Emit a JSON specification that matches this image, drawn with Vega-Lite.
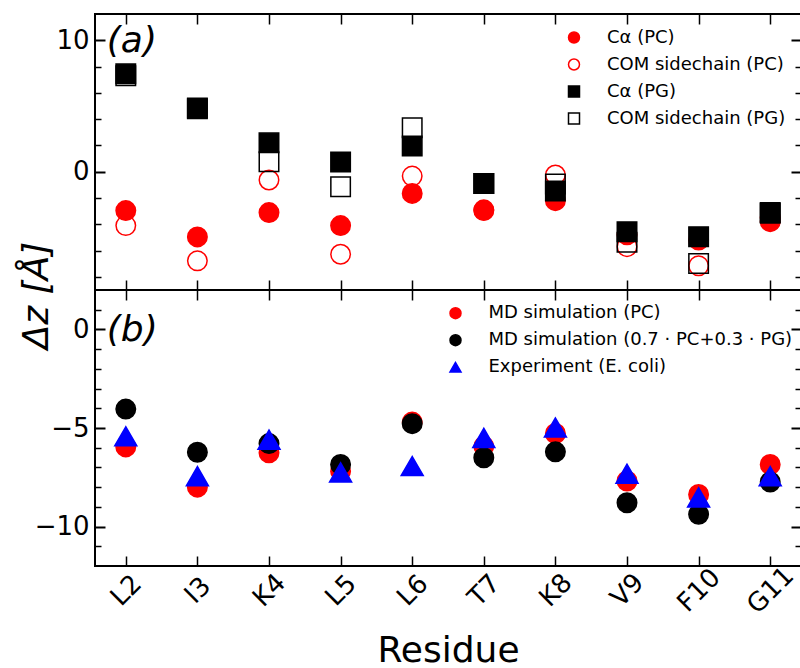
{
  "$schema": "https://vega.github.io/schema/vega-lite/v6.json",
  "padding": {"left": 17, "top": 12, "right": 0, "bottom": 0},
  "bounds": "flush",
  "spacing": 0,
  "resolve": {
    "scale": {"shape": "independent", "fill": "independent", "stroke": "independent", "x": "independent", "y": "independent"},
    "legend": {"shape": "independent", "fill": "independent", "stroke": "independent"}
  },
  "config": {
    "font": "DejaVu Sans",
    "view": {"stroke": "black", "strokeWidth": 2},
    "axis": {"grid": false, "domain": false, "labelFont": "DejaVu Sans", "labelFontSize": 26, "labelColor": "black", "tickColor": "black", "titleColor": "black", "titleFont": "DejaVu Sans", "titleFontWeight": "normal"},
    "legend": {"labelFont": "DejaVu Sans", "labelFontSize": 18, "labelColor": "black", "labelLimit": 0, "symbolSize": 121, "symbolStrokeWidth": 1.5, "rowPadding": 9, "padding": 0, "labelOffset": 24}
  },
  "datasets": {
    "a": [
      {"residue": "L2", "seriesA": "Cα (PC)", "dz": -2.96},
      {"residue": "I3", "seriesA": "Cα (PC)", "dz": -4.96},
      {"residue": "K4", "seriesA": "Cα (PC)", "dz": -3.11},
      {"residue": "L5", "seriesA": "Cα (PC)", "dz": -4.1},
      {"residue": "L6", "seriesA": "Cα (PC)", "dz": -1.65},
      {"residue": "T7", "seriesA": "Cα (PC)", "dz": -2.96},
      {"residue": "K8", "seriesA": "Cα (PC)", "dz": -2.2},
      {"residue": "V9", "seriesA": "Cα (PC)", "dz": -4.8},
      {"residue": "F10", "seriesA": "Cα (PC)", "dz": -5.2},
      {"residue": "G11", "seriesA": "Cα (PC)", "dz": -3.8},
      {"residue": "L2", "seriesA": "COM sidechain (PC)", "dz": -4.1},
      {"residue": "I3", "seriesA": "COM sidechain (PC)", "dz": -6.78},
      {"residue": "K4", "seriesA": "COM sidechain (PC)", "dz": -0.63},
      {"residue": "L5", "seriesA": "COM sidechain (PC)", "dz": -6.28},
      {"residue": "L6", "seriesA": "COM sidechain (PC)", "dz": -0.33},
      {"residue": "T7", "seriesA": "COM sidechain (PC)", "dz": -2.9},
      {"residue": "K8", "seriesA": "COM sidechain (PC)", "dz": -0.25},
      {"residue": "V9", "seriesA": "COM sidechain (PC)", "dz": -5.7},
      {"residue": "F10", "seriesA": "COM sidechain (PC)", "dz": -7.16},
      {"residue": "G11", "seriesA": "COM sidechain (PC)", "dz": -3.5},
      {"residue": "L2", "seriesA": "Cα (PG)", "dz": 7.45},
      {"residue": "I3", "seriesA": "Cα (PG)", "dz": 4.8},
      {"residue": "K4", "seriesA": "Cα (PG)", "dz": 2.2},
      {"residue": "L5", "seriesA": "Cα (PG)", "dz": 0.74},
      {"residue": "L6", "seriesA": "Cα (PG)", "dz": 1.95},
      {"residue": "T7", "seriesA": "Cα (PG)", "dz": -0.89},
      {"residue": "K8", "seriesA": "Cα (PG)", "dz": -1.47},
      {"residue": "V9", "seriesA": "Cα (PG)", "dz": -4.56},
      {"residue": "F10", "seriesA": "Cα (PG)", "dz": -4.94},
      {"residue": "G11", "seriesA": "Cα (PG)", "dz": -3.16},
      {"residue": "L2", "seriesA": "COM sidechain (PG)", "dz": 7.3},
      {"residue": "I3", "seriesA": "COM sidechain (PG)", "dz": 4.85},
      {"residue": "K4", "seriesA": "COM sidechain (PG)", "dz": 0.76},
      {"residue": "L5", "seriesA": "COM sidechain (PG)", "dz": -1.14},
      {"residue": "L6", "seriesA": "COM sidechain (PG)", "dz": 3.34},
      {"residue": "T7", "seriesA": "COM sidechain (PG)", "dz": -0.9},
      {"residue": "K8", "seriesA": "COM sidechain (PG)", "dz": -0.94},
      {"residue": "V9", "seriesA": "COM sidechain (PG)", "dz": -5.37},
      {"residue": "F10", "seriesA": "COM sidechain (PG)", "dz": -6.99},
      {"residue": "G11", "seriesA": "COM sidechain (PG)", "dz": -3.1}
    ],
    "b": [
      {"residue": "L2", "seriesB": "MD simulation (PC)", "dz": -5.96},
      {"residue": "I3", "seriesB": "MD simulation (PC)", "dz": -8.0},
      {"residue": "K4", "seriesB": "MD simulation (PC)", "dz": -6.26},
      {"residue": "L5", "seriesB": "MD simulation (PC)", "dz": -7.19},
      {"residue": "L6", "seriesB": "MD simulation (PC)", "dz": -4.7},
      {"residue": "T7", "seriesB": "MD simulation (PC)", "dz": -5.93},
      {"residue": "K8", "seriesB": "MD simulation (PC)", "dz": -5.28},
      {"residue": "V9", "seriesB": "MD simulation (PC)", "dz": -7.69},
      {"residue": "F10", "seriesB": "MD simulation (PC)", "dz": -8.37},
      {"residue": "G11", "seriesB": "MD simulation (PC)", "dz": -6.85},
      {"residue": "L2", "seriesB": "MD simulation (0.7 · PC+0.3 · PG)", "dz": -4.04},
      {"residue": "I3", "seriesB": "MD simulation (0.7 · PC+0.3 · PG)", "dz": -6.23},
      {"residue": "K4", "seriesB": "MD simulation (0.7 · PC+0.3 · PG)", "dz": -5.79},
      {"residue": "L5", "seriesB": "MD simulation (0.7 · PC+0.3 · PG)", "dz": -6.85},
      {"residue": "L6", "seriesB": "MD simulation (0.7 · PC+0.3 · PG)", "dz": -4.78},
      {"residue": "T7", "seriesB": "MD simulation (0.7 · PC+0.3 · PG)", "dz": -6.51},
      {"residue": "K8", "seriesB": "MD simulation (0.7 · PC+0.3 · PG)", "dz": -6.21},
      {"residue": "V9", "seriesB": "MD simulation (0.7 · PC+0.3 · PG)", "dz": -8.79},
      {"residue": "F10", "seriesB": "MD simulation (0.7 · PC+0.3 · PG)", "dz": -9.38},
      {"residue": "G11", "seriesB": "MD simulation (0.7 · PC+0.3 · PG)", "dz": -7.74},
      {"residue": "L2", "seriesB": "Experiment (E. coli)", "dz": -5.42},
      {"residue": "I3", "seriesB": "Experiment (E. coli)", "dz": -7.44},
      {"residue": "K4", "seriesB": "Experiment (E. coli)", "dz": -5.59},
      {"residue": "L5", "seriesB": "Experiment (E. coli)", "dz": -7.25},
      {"residue": "L6", "seriesB": "Experiment (E. coli)", "dz": -6.93},
      {"residue": "T7", "seriesB": "Experiment (E. coli)", "dz": -5.5},
      {"residue": "K8", "seriesB": "Experiment (E. coli)", "dz": -4.97},
      {"residue": "V9", "seriesB": "Experiment (E. coli)", "dz": -7.32},
      {"residue": "F10", "seriesB": "Experiment (E. coli)", "dz": -8.52},
      {"residue": "G11", "seriesB": "Experiment (E. coli)", "dz": -7.44}
    ]
  },
  "vconcat": [
    {
      "width": 706,
      "height": 276,
      "resolve": {"axis": {"x": "independent", "y": "independent"}},
      "layer": [
        {
          "data": {"name": "a"},
          "mark": {"type": "point", "filled": true, "size": 380, "strokeWidth": 1.5, "opacity": 1},
          "encoding": {
            "x": {"field": "residue", "type": "ordinal", "sort": null,
              "scale": {"type": "point", "domain": ["L2","I3","K4","L5","L6","T7","K8","V9","F10","G11"], "padding": 0.43},
              "axis": {"orient": "bottom", "labels": false, "title": null, "tickSize": -10, "tickWidth": 1.5}},
            "y": {"field": "dz", "type": "quantitative",
              "scale": {"domain": [-9, 12], "nice": false, "zero": false},
              "axis": {"orient": "left", "values": [-8,-6,-4,-2,0,2,4,6,8,10],
                "labelExpr": "datum.value % 10 === 0 ? datum.label : ''",
                "tickSize": {"condition": {"test": "datum.value % 10 === 0", "value": -10}, "value": -6},
                "tickWidth": {"condition": {"test": "datum.value % 10 === 0", "value": 2}, "value": 1.5},
                "labelPadding": 16, "labelBaseline": "middle",
                "title": "Δz [Å]", "titleFontSize": 36, "titleFontStyle": "italic", "titleAngle": -90,
                "titleX": -48, "titleY": 281, "titleAlign": "center", "titleBaseline": "alphabetic"}},
            "shape": {"field": "seriesA", "type": "nominal",
              "scale": {"domain": ["Cα (PC)", "COM sidechain (PC)", "Cα (PG)", "COM sidechain (PG)"], "range": ["circle", "circle", "square", "square"]},
              "legend": {"title": null, "orient": "none", "legendX": 470, "legendY": 14.5}},
            "fill": {"field": "seriesA", "type": "nominal",
              "scale": {"domain": ["Cα (PC)", "COM sidechain (PC)", "Cα (PG)", "COM sidechain (PG)"], "range": ["red", "transparent", "black", "transparent"]},
              "legend": {"title": null, "orient": "none", "legendX": 470, "legendY": 14.5}},
            "stroke": {"field": "seriesA", "type": "nominal",
              "scale": {"domain": ["Cα (PC)", "COM sidechain (PC)", "Cα (PG)", "COM sidechain (PG)"], "range": ["red", "red", "black", "black"]},
              "legend": {"title": null, "orient": "none", "legendX": 470, "legendY": 14.5}}
          }
        },
        {
          "data": {"values": [{}]},
          "mark": {"type": "text", "text": "(a)", "fontSize": 36, "fontStyle": "italic", "align": "left", "baseline": "alphabetic", "dx": -19, "fill": "black"},
          "encoding": {
            "x": {"datum": "L2", "type": "ordinal",
              "axis": {"orient": "top", "labels": false, "title": null, "tickSize": -10, "tickWidth": 1.5}},
            "y": {"datum": 9.1, "type": "quantitative",
              "axis": {"orient": "right", "values": [-8,-6,-4,-2,0,2,4,6,8,10], "labels": false, "title": null,
                "tickSize": {"condition": {"test": "datum.value % 10 === 0", "value": -10}, "value": -6},
                "tickWidth": {"condition": {"test": "datum.value % 10 === 0", "value": 2}, "value": 1.5}}}
          }
        }
      ]
    },
    {
      "width": 706,
      "height": 276,
      "resolve": {"axis": {"x": "independent", "y": "independent"}},
      "encoding": {
        "shape": {"field": "seriesB", "type": "nominal",
          "scale": {"domain": ["MD simulation (PC)", "MD simulation (0.7 · PC+0.3 · PG)", "Experiment (E. coli)"], "range": ["circle", "circle", "triangle-up"]},
          "legend": {"title": null, "orient": "none", "legendX": 351.5, "legendY": 14.2}},
        "fill": {"field": "seriesB", "type": "nominal",
          "scale": {"domain": ["MD simulation (PC)", "MD simulation (0.7 · PC+0.3 · PG)", "Experiment (E. coli)"], "range": ["red", "black", "blue"]},
          "legend": {"title": null, "orient": "none", "legendX": 351.5, "legendY": 14.2}},
        "stroke": {"field": "seriesB", "type": "nominal",
          "scale": {"domain": ["MD simulation (PC)", "MD simulation (0.7 · PC+0.3 · PG)", "Experiment (E. coli)"], "range": ["red", "black", "blue"]},
          "legend": {"title": null, "orient": "none", "legendX": 351.5, "legendY": 14.2}}
      },
      "layer": [
        {
          "data": {"name": "b"},
          "transform": [{"filter": "datum.seriesB !== 'Experiment (E. coli)'"}],
          "mark": {"type": "point", "filled": true, "size": 380, "strokeWidth": 1.5, "opacity": 1},
          "encoding": {
            "x": {"field": "residue", "type": "ordinal", "sort": null,
              "scale": {"type": "point", "domain": ["L2","I3","K4","L5","L6","T7","K8","V9","F10","G11"], "padding": 0.43},
              "axis": {"orient": "bottom", "labelAngle": -45, "labelAlign": "center", "labelBaseline": "middle", "labelPadding": 34, "tickSize": -10, "tickWidth": 1.5,
                "title": "Residue", "titleFontSize": 36, "titleY": 95, "titleBaseline": "alphabetic"}},
            "y": {"field": "dz", "type": "quantitative",
              "scale": {"domain": [-12, 2], "nice": false, "zero": false},
              "axis": {"orient": "left", "values": [-11,-10,-9,-8,-7,-6,-5,-4,-3,-2,-1,0,1],
                "labelExpr": "datum.value % 5 === 0 ? datum.label : ''",
                "tickSize": {"condition": {"test": "datum.value % 5 === 0", "value": -10}, "value": -6},
                "tickWidth": {"condition": {"test": "datum.value % 5 === 0", "value": 2}, "value": 1.5},
                "labelPadding": 16, "labelBaseline": "middle", "title": null}}
          }
        },
        {
          "data": {"name": "b"},
          "transform": [{"filter": "datum.seriesB === 'Experiment (E. coli)'"}],
          "mark": {"type": "point", "filled": true, "size": 484, "strokeWidth": 1.5, "opacity": 1},
          "encoding": {
            "x": {"field": "residue", "type": "ordinal", "sort": null,
              "axis": {"orient": "top", "labels": false, "title": null, "tickSize": -10, "tickWidth": 1.5}},
            "y": {"field": "dz", "type": "quantitative",
              "axis": {"orient": "right", "values": [-11,-10,-9,-8,-7,-6,-5,-4,-3,-2,-1,0,1], "labels": false, "title": null,
                "tickSize": {"condition": {"test": "datum.value % 5 === 0", "value": -10}, "value": -6},
                "tickWidth": {"condition": {"test": "datum.value % 5 === 0", "value": 2}, "value": 1.5}}}
          }
        },
        {
          "data": {"values": [{}]},
          "mark": {"type": "text", "text": "(b)", "fontSize": 36, "fontStyle": "italic", "align": "left", "baseline": "alphabetic", "dx": -19, "fill": "black"},
          "encoding": {
            "x": {"datum": "L2", "type": "ordinal", "axis": null},
            "y": {"datum": -0.59, "type": "quantitative", "axis": null},
            "shape": null, "fill": null, "stroke": null
          }
        }
      ]
    }
  ]
}
